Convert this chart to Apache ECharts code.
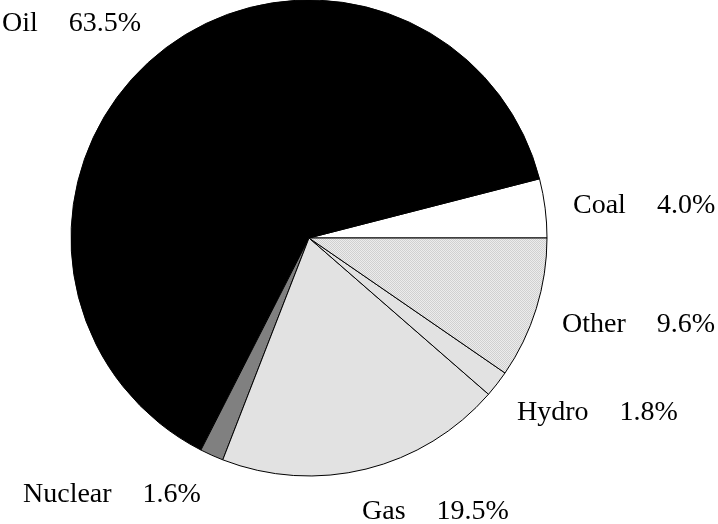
<!DOCTYPE html>
<html>
<head>
<meta charset="utf-8">
<script src="https://cdn.jsdelivr.net/npm/echarts@6/dist/echarts.min.js"></script>
<style>html,body{margin:0;padding:0;background:#fff}#c{width:718px;height:524px}</style>
</head>
<body>
<div id="c"></div>
<script>
// Data (counter-clockwise from 3 o'clock)
const categories = ['Coal', 'Oil', 'Nuclear', 'Gas', 'Hydro', 'Other'];
const shares = [4.0, 63.5, 1.6, 19.5, 1.8, 9.6];

// Styles / layout (kept separate from data)
const fills = ['#ffffff', '#000000', '#808080', '#e2e2e2', '#e2e2e2', 'pattern'];
const labelAnchors = [[573, 206], [2, 24], [23, 495], [362, 512], [517, 413], [562, 325]];

function makePattern() {
  const cv = document.createElement('canvas');
  cv.width = 2; cv.height = 2;
  const ctx = cv.getContext('2d');
  ctx.fillStyle = '#ececec'; ctx.fillRect(0, 0, 2, 2);
  ctx.fillStyle = '#d0d0d0'; ctx.fillRect(0, 0, 1, 1); ctx.fillRect(1, 1, 1, 1);
  return { image: cv, repeat: 'repeat' };
}
const pattern = makePattern();

const chart = echarts.init(document.getElementById('c'), null, { renderer: 'canvas' });
chart.setOption({
  backgroundColor: '#ffffff',
  animation: false,
  series: [{
    type: 'pie',
    center: [309, 238],
    radius: [0, 238],
    startAngle: 0,
    clockwise: false,
    avoidLabelOverlap: false,
    minAngle: 0,
    itemStyle: { borderColor: '#000', borderWidth: 1 },
    emphasis: { disabled: true },
    labelLine: { show: false },
    label: {
      show: true,
      position: 'outside',
      formatter: p => '{n|' + p.name + '}{v|' + p.value.toFixed(1) + '%}',
      rich: {
        n: { fontFamily: 'Liberation Serif', fontSize: 28, color: '#000' },
        v: { fontFamily: 'Liberation Serif', fontSize: 28, color: '#000', padding: [0, 0, 0, 31] }
      }
    },
    labelLayout: function (params) {
      const a = labelAnchors[params.dataIndex];
      return { x: a[0], y: a[1], align: 'left', verticalAlign: 'middle', moveOverlap: false, hideOverlap: false };
    },
    data: categories.map((c, i) => ({
      name: c,
      value: shares[i],
      itemStyle: { color: fills[i] === 'pattern' ? pattern : fills[i] }
    }))
  }]
});
</script>
</body>
</html>
